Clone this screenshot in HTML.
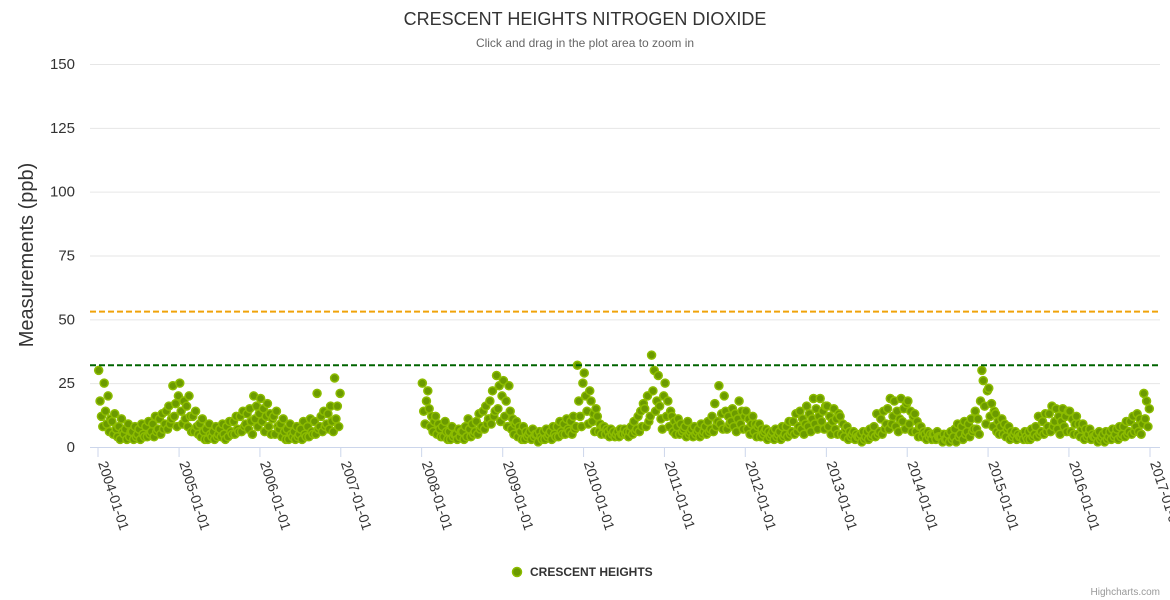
<!DOCTYPE html>
<html><head><meta charset="utf-8"><style>
html,body{margin:0;padding:0;background:#fff;}
svg{display:block;font-family:"Liberation Sans",sans-serif;}
</style></head><body>
<svg id="chart" width="1170" height="600">
<text x="585" y="25" text-anchor="middle" font-size="18" fill="#333">CRESCENT HEIGHTS NITROGEN DIOXIDE</text>
<text x="585" y="47" text-anchor="middle" font-size="12" fill="#666">Click and drag in the plot area to zoom in</text>
<text transform="translate(33 255) rotate(-90)" text-anchor="middle" font-size="20" fill="#333">Measurements (ppb)</text>
<g id="grid"></g><g id="ylab"></g><g id="xax"></g>
<g id="plot"></g>
<g id="lines"></g>
<g>
<circle cx="517" cy="572" r="4.5" fill="#6b9a00" stroke="#8cbc00" stroke-width="1.5"/>
<text x="530" y="576" font-size="12" font-weight="bold" fill="#333">CRESCENT HEIGHTS</text>
</g>
<text x="1160" y="595" text-anchor="end" font-size="10" fill="#999">Highcharts.com</text>
</svg>
<script>
const yTicks=[0,25,50,75,100,125,150];
const xTickYears=[2004,2005,2006,2007,2008,2009,2010,2011,2012,2013,2014,2015,2016,2017];
const plotLines=[32,53];
const dataYears=[2004,2005,2006,2008,2009,2010,2011,2012,2013,2014,2015,2016];
const monthly2004=["30 18 12 8 25","14 9 20 6 11","10 5 13 7 4","8 3 11 6 5","7 3 9 4 6","6 3 8 4 5","7 3 9 5 4","8 4 10 5 6","9 4 12 6 7","11 5 13 7 9","14 7 16 9 11","24 12 17 8 20"];
const monthly2005=["25 14 9 18 11","16 8 20 12 6","12 6 14 8 5","9 4 11 6 3","7 3 9 5 4","6 3 8 4 5","7 4 9 5 3","8 4 10 6 5","10 5 12 7 6","12 6 14 8 9","13 7 15 10 5","20 11 16 8 13"];
const monthly2006=["19 10 15 6 12","17 8 13 5 11","12 5 14 8 7","9 4 11 6 3","7 3 9 5 4","6 3 8 4 5","7 3 10 5 4","8 4 11 6 5","10 5 21 7 8","12 6 14 8 9","13 7 16 10 6","27 11 16 8 21"];
const monthly2008=["25 14 9 18 22","15 8 12 6 10","12 5 9 7 4","8 4 10 6 3","6 3 8 4 5","5 3 7 4 6","6 3 8 4 11","7 4 9 5 6","10 5 13 7 8","14 7 16 9 11","18 9 22 12 14","28 15 24 10 20"];
const monthly2009=["26 12 18 8 24","14 7 11 5 9","10 4 8 6 3","8 3 6 4 5","6 3 7 4 5","5 2 6 4 3","6 3 7 4 5","6 3 8 5 4","8 4 10 6 5","9 5 11 7 6","10 5 12 7 8","32 18 12 8 25"];
const monthly2010=["29 20 14 9 22","18 10 13 6 15","12 6 9 5 8","8 5 7 6 4","7 5 6 4 5","6 4 7 5 5","7 5 6 4 6","8 5 10 6 7","12 6 14 8 17","15 8 20 10 12","36 22 30 14 18","28 16 11 7 20"];
const monthly2011=["25 12 18 8 14","12 6 10 5 8","11 5 9 6 7","8 4 10 5 6","7 4 8 5 6","7 4 9 5 6","8 5 10 6 7","12 6 17 8 10","24 9 13 7 20","14 7 12 9 10","15 8 13 6 11","18 9 14 7 12"];
const monthly2012=["14 7 11 5 9","12 6 9 4 8","9 4 7 5 6","7 3 6 4 5","6 3 7 4 5","6 3 8 4 5","8 4 10 5 6","10 5 13 6 8","14 7 11 5 9","16 8 13 6 11","19 9 15 7 12","19 10 14 7 16"];
const monthly2013=["16 8 12 5 10","15 7 11 5 13","12 5 9 4 7","8 3 6 4 5","6 3 5 4 4","5 2 6 3 4","6 3 7 4 5","8 4 13 5 6","11 5 14 7 9","15 7 19 9 12","18 8 14 6 11","19 10 15 7 17"];
const monthly2014=["18 9 14 6 12","13 6 10 4 8","8 4 6 5 3","6 4 5 3 5","5 3 6 4 4","4 2 5 3 3","5 2 6 3 4","7 2 9 4 5","8 3 10 5 6","9 4 11 6 7","14 7 11 5 18","30 26 16 9 22"];
const monthly2015=["23 12 17 8 14","13 6 10 5 8","11 5 9 4 7","8 3 6 4 5","6 3 5 4 4","5 3 6 4 3","6 3 7 4 5","8 4 12 5 6","10 5 13 6 8","13 6 16 8 10","15 7 12 5 10","15 8 12 6 14"];
const monthly2016=["14 6 11 5 9","12 5 9 4 7","9 3 7 4 5","7 3 5 4 4","5 2 6 3 4","5 2 6 3 4","6 3 7 4 5","7 3 8 4 5","8 4 10 5 6","10 5 12 6 8","13 6 11 5 9","21 11 18 8 15"];
const monthlyByYear=[monthly2004,monthly2005,monthly2006,monthly2008,monthly2009,monthly2010,monthly2011,monthly2012,monthly2013,monthly2014,monthly2015,monthly2016];

const NS="http://www.w3.org/2000/svg";
const X0=98,X1=1150,Y0=447,Y1=64;
const t0=Date.UTC(2004,0,1),t1=Date.UTC(2017,0,1);
function xs(t){return X0+(t-t0)/(t1-t0)*(X1-X0);}
function ys(v){return Y0-v/150*(Y0-Y1);}
function mk(tag,at,parent){const e=document.createElementNS(NS,tag);for(const k in at)e.setAttribute(k,at[k]);parent.appendChild(e);return e;}
const grid=document.getElementById('grid'),ylab=document.getElementById('ylab'),xax=document.getElementById('xax'),plot=document.getElementById('plot'),lines=document.getElementById('lines');
yTicks.forEach(v=>{
  const l=mk('line',{x1:90,x2:1160,y1:ys(v)+0.5,y2:ys(v)+0.5,stroke:v===0?'#ccd6eb':'#e6e6e6','stroke-width':1},grid);
  
  
  const t=mk('text',{x:75,y:ys(v)+5,'text-anchor':'end','font-size':15,fill:'#333'},ylab);
  t.textContent=v;
  
  
});
xTickYears.forEach(yr=>{
  const x=xs(Date.UTC(yr,0,1));
  const l=mk('line',{x1:x,x2:x,y1:Y0,y2:Y0+10,stroke:'#ccd6eb'},xax);
  
  
  const t=mk('text',{x:x,y:Y0+16,'font-size':14,fill:'#333',transform:`rotate(72 ${x} ${Y0+16})`},xax);
  t.textContent=yr+'-01-01';
  
  
});
dataYears.forEach((yr,yi)=>{
  monthlyByYear[yi].forEach((s,m)=>{
    const vals=s.split(' ').map(Number);
    const days=new Date(Date.UTC(yr,m+1,0)).getUTCDate();
    vals.forEach((v,i)=>{
      const t=Date.UTC(yr,m,1)+((i+0.5)*days/vals.length)*86400000;
      const c=mk('circle',{cx:xs(t),cy:ys(v),r:4,fill:'#6b9a00',stroke:'#8cbc00','stroke-width':1.5},plot);
      
      
    });
  });
});
plotLines.forEach((v,i)=>{
  const l=mk('line',{x1:90,x2:1160,y1:ys(v),y2:ys(v),stroke:i===0?'#006400':'#f0a30a','stroke-width':2,'stroke-dasharray':'6,3'},lines);
  
  
});
</script>
</body></html>
